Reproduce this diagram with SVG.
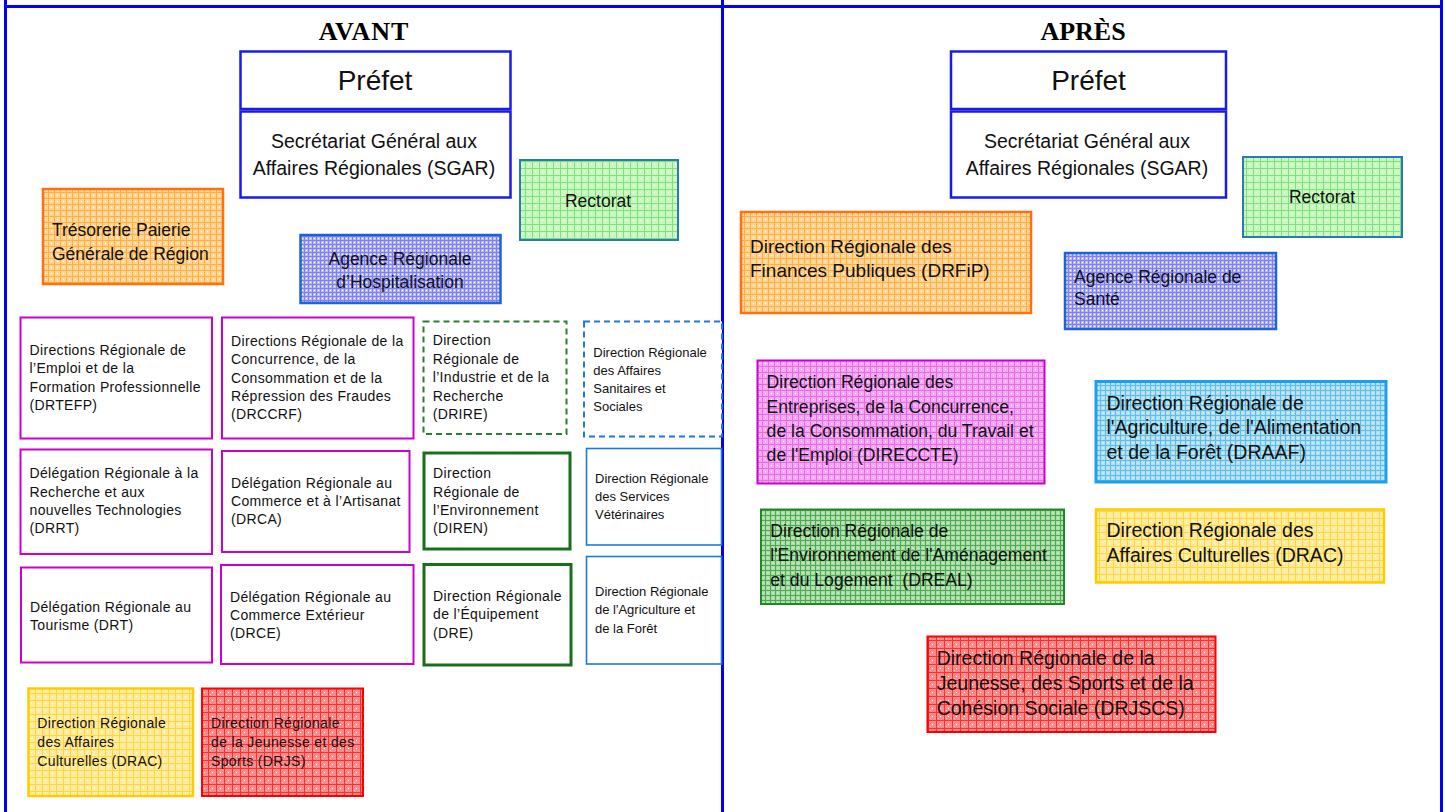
<svg xmlns="http://www.w3.org/2000/svg" width="1445" height="812" viewBox="0 0 1445 812">
<style>
text{font-family:"Liberation Sans",Arial,sans-serif;fill:#111}
.title{font-family:"Liberation Serif","Times New Roman",serif;font-weight:bold;font-size:26px;text-anchor:middle;fill:#000}
.head{fill:#fff;stroke:#1a1aee;stroke-width:2.5}
.big{font-size:28px;text-anchor:middle}
.sg{font-size:19.5px;text-anchor:middle}
.mid{font-size:17.5px}
.c{text-anchor:middle}
.sm{font-size:14px;letter-spacing:0.35px}
.xs{font-size:13px}
.mag{fill:#fff;stroke:#cc00cc;stroke-width:2}
.grn{fill:#fff;stroke:#1a6e1a;stroke-width:3}
.grnd{fill:#fff;stroke:#2e7d32;stroke-width:2;stroke-dasharray:6 4}
.blu{fill:#fff;stroke:#1e78e0;stroke-width:1.6}
.blud{fill:#fff;stroke:#1e78e0;stroke-width:2;stroke-dasharray:6 4}
.r19{font-size:19.5px}
.r18{font-size:17.6px}
</style>
<defs>
<pattern id="pOr" width="6" height="6" patternUnits="userSpaceOnUse"><rect width="6" height="6" fill="#ffd595"/><path d="M0 0.5H6M0.5 0V6" stroke="#ffb040" stroke-width="1"/><rect x="3" y="3" width="1" height="1" fill="#fff"/></pattern>
<pattern id="pBl" width="4" height="4" patternUnits="userSpaceOnUse"><rect width="4" height="4" fill="#b8bcff"/><path d="M0 0.5H4M0.5 0V4" stroke="#8080f4" stroke-width="1"/><rect x="2" y="2" width="1" height="1" fill="#fff"/></pattern>
<pattern id="pGr" width="7" height="7" patternUnits="userSpaceOnUse"><rect width="7" height="7" fill="#c8f8c0"/><path d="M0 0.5H7M0.5 0V7" stroke="#80e080" stroke-width="1"/><rect x="3" y="3" width="1" height="1" fill="#fff"/></pattern>
<pattern id="pRd" width="8" height="8" patternUnits="userSpaceOnUse"><rect width="8" height="8" fill="#ff8888"/><path d="M0 0.5H8M0.5 0V8" stroke="#ff3030" stroke-width="1"/><rect x="4" y="4" width="1" height="1" fill="#fff"/><rect x="2" y="6" width="1" height="1" fill="#ffd0d0"/></pattern>
<pattern id="pYe" width="7" height="7" patternUnits="userSpaceOnUse"><rect width="7" height="7" fill="#ffec9e"/><path d="M0 0.5H7M0.5 0V7" stroke="#ffd640" stroke-width="1"/><rect x="3" y="3" width="1" height="1" fill="#fff"/></pattern>
<pattern id="pMg" width="6" height="6" patternUnits="userSpaceOnUse"><rect width="6" height="6" fill="#f6a8f6"/><path d="M0 0.5H6M0.5 0V6" stroke="#e070e0" stroke-width="1"/><rect x="3" y="3" width="1" height="1" fill="#fff"/></pattern>
<pattern id="pCy" width="5" height="5" patternUnits="userSpaceOnUse"><rect width="5" height="5" fill="#b0e0f0"/><path d="M0 0.5H5M0.5 0V5" stroke="#60bce8" stroke-width="1"/><rect x="2.5" y="2.5" width="1" height="1" fill="#fff"/></pattern>
<pattern id="pDg" width="5" height="5" patternUnits="userSpaceOnUse"><rect width="5" height="5" fill="#a8dca8"/><path d="M0 0.5H5M0.5 0V5" stroke="#50a850" stroke-width="1"/><rect x="2.5" y="2.5" width="1" height="1" fill="#fff"/></pattern>
</defs>
<rect width="1445" height="812" fill="#fff"/>
<g id="frame" fill="none" stroke="#0000ff" stroke-width="3">
<path d="M5 6.5H1441.5"/>
<path d="M5.5 0V812M722.5 0V812M1441.5 0V812"/>
</g>
<g id="connectors"/>
<text class="title" x="364" y="40" style="letter-spacing:1px">AVANT</text>
<text class="title" x="1083" y="40">APRÈS</text>

<!-- AVANT -->
<g id="prefet-avant"><rect class="head" x="240.5" y="51.5" width="270" height="57.5"/><text class="big" x="375" y="90">Préfet</text></g>
<g id="sgar-avant"><rect class="head" x="240.5" y="111.5" width="270" height="86"/><text class="sg"><tspan x="374" y="148">Secrétariat Général aux</tspan><tspan x="374" y="175">Affaires Régionales (SGAR)</tspan></text></g>
<g id="rectorat-avant"><rect x="520" y="160" width="158" height="80" fill="url(#pGr)" stroke="#2a7ab8" stroke-width="2"/><text class="mid c" x="598" y="207">Rectorat</text></g>
<g id="arh"><rect x="300.5" y="235" width="200" height="68" fill="url(#pBl)" stroke="#1e64d8" stroke-width="2.5"/><text class="mid c"><tspan x="400" y="265">Agence Régionale</tspan><tspan x="400" y="288">d’Hospitalisation</tspan></text></g>
<g id="tpgr"><rect x="43" y="189" width="180" height="95" fill="url(#pOr)" stroke="#ff7010" stroke-width="2.5"/><text class="mid"><tspan x="52" y="236">Trésorerie Paierie</tspan><tspan x="52" y="260">Générale de Région</tspan></text></g>

<g id="drtefp"><rect class="mag" x="20.5" y="317.5" width="191.5" height="121"/><text class="sm"><tspan x="29.5" y="355">Directions Régionale de</tspan><tspan x="29.5" y="373.3">l’Emploi et de la</tspan><tspan x="29.5" y="391.7">Formation Professionnelle</tspan><tspan x="29.5" y="410">(DRTEFP)</tspan></text></g>
<g id="drccrf"><rect class="mag" x="222" y="317.5" width="191.5" height="121"/><text class="sm"><tspan x="231" y="346">Directions Régionale de la</tspan><tspan x="231" y="364.3">Concurrence, de la</tspan><tspan x="231" y="382.7">Consommation et de la</tspan><tspan x="231" y="401">Répression des Fraudes</tspan><tspan x="231" y="419.3">(DRCCRF)</tspan></text></g>
<g id="drrt"><rect class="mag" x="20.5" y="449.5" width="191.5" height="104.5"/><text class="sm"><tspan x="29.5" y="478.3">Délégation Régionale à la</tspan><tspan x="29.5" y="496.7">Recherche et aux</tspan><tspan x="29.5" y="515">nouvelles Technologies</tspan><tspan x="29.5" y="533.3">(DRRT)</tspan></text></g>
<g id="drca"><rect class="mag" x="222" y="451" width="187.5" height="101"/><text class="sm"><tspan x="231" y="487.7">Délégation Régionale au</tspan><tspan x="231" y="506">Commerce et à l’Artisanat</tspan><tspan x="231" y="524.3">(DRCA)</tspan></text></g>
<g id="drt"><rect class="mag" x="21" y="567.5" width="191" height="95"/><text class="sm"><tspan x="30" y="611.7">Délégation Régionale au</tspan><tspan x="30" y="630">Tourisme (DRT)</tspan></text></g>
<g id="drce"><rect class="mag" x="221" y="565" width="192.5" height="99"/><text class="sm"><tspan x="230" y="601.7">Délégation Régionale au</tspan><tspan x="230" y="620">Commerce Extérieur</tspan><tspan x="230" y="638.3">(DRCE)</tspan></text></g>

<g id="drire"><rect class="grnd" x="423.5" y="321.5" width="143" height="112.5"/><text class="sm"><tspan x="432.7" y="345">Direction</tspan><tspan x="432.7" y="363.5">Régionale de</tspan><tspan x="432.7" y="382">l’Industrie et de la</tspan><tspan x="432.7" y="400.5">Recherche</tspan><tspan x="432.7" y="419">(DRIRE)</tspan></text></g>
<g id="diren"><rect class="grn" x="424" y="453" width="146" height="96"/><text class="sm"><tspan x="433" y="478.3">Direction</tspan><tspan x="433" y="496.7">Régionale de</tspan><tspan x="433" y="515">l’Environnement</tspan><tspan x="433" y="533.3">(DIREN)</tspan></text></g>
<g id="dre"><rect class="grn" x="424" y="564.5" width="147" height="100.5"/><text class="sm"><tspan x="433" y="601">Direction Régionale</tspan><tspan x="433" y="619.3">de l’Équipement</tspan><tspan x="433" y="637.7">(DRE)</tspan></text></g>

<g id="drass"><rect class="blud" x="584" y="321.5" width="138" height="115"/><text class="xs"><tspan x="593.3" y="356.7">Direction Régionale</tspan><tspan x="593.3" y="375">des Affaires</tspan><tspan x="593.3" y="393">Sanitaires et</tspan><tspan x="593.3" y="411">Sociales</tspan></text></g>
<g id="drsv"><rect class="blu" x="586.5" y="448.5" width="135" height="96.5"/><text class="xs"><tspan x="595" y="482.7">Direction Régionale</tspan><tspan x="595" y="501">des Services</tspan><tspan x="595" y="519">Vétérinaires</tspan></text></g>
<g id="draf"><rect class="blu" x="586.5" y="556.5" width="135" height="107.5"/><text class="xs"><tspan x="595" y="596">Direction Régionale</tspan><tspan x="595" y="614.3">de l'Agriculture et</tspan><tspan x="595" y="632.7">de la Forêt</tspan></text></g>

<g id="drac-avant"><rect x="28.5" y="688.5" width="164.5" height="107.5" fill="url(#pYe)" stroke="#ffcc00" stroke-width="2.5"/><text class="sm"><tspan x="37.3" y="728.3">Direction Régionale</tspan><tspan x="37.3" y="746.7">des Affaires</tspan><tspan x="37.3" y="766">Culturelles (DRAC)</tspan></text></g>
<g id="drjs"><rect x="202" y="688.5" width="161" height="107.5" fill="url(#pRd)" stroke="#ff0000" stroke-width="2"/><text class="sm"><tspan x="211" y="728.3">Direction Régionale</tspan><tspan x="211" y="746.7">de la Jeunesse et des</tspan><tspan x="211" y="766">Sports (DRJS)</tspan></text></g>

<!-- APRÈS -->
<g id="prefet-apres"><rect class="head" x="951" y="51.5" width="275" height="57.5"/><text class="big" x="1088.5" y="90">Préfet</text></g>
<g id="sgar-apres"><rect class="head" x="951" y="111.5" width="275" height="86"/><text class="sg"><tspan x="1087" y="148">Secrétariat Général aux</tspan><tspan x="1087" y="175">Affaires Régionales (SGAR)</tspan></text></g>
<g id="rectorat-apres"><rect x="1243" y="157" width="159" height="80" fill="url(#pGr)" stroke="#2a7ab8" stroke-width="2"/><text class="mid c" x="1322" y="203">Rectorat</text></g>
<g id="drfip"><rect x="741" y="212" width="290" height="101" fill="url(#pOr)" stroke="#ff7010" stroke-width="2.5"/><text style="font-size:19px"><tspan x="750" y="253.3">Direction Régionale des</tspan><tspan x="750" y="276.7">Finances Publiques (DRFiP)</tspan></text></g>
<g id="ars"><rect x="1065" y="253" width="211" height="76" fill="url(#pBl)" stroke="#1e64d8" stroke-width="2.5"/><text class="mid"><tspan x="1074" y="282.7">Agence Régionale de</tspan><tspan x="1074" y="305">Santé</tspan></text></g>
<g id="direccte"><rect x="757.5" y="360.5" width="287" height="123" fill="url(#pMg)" stroke="#cc00cc" stroke-width="2"/><text class="r18"><tspan x="766.6" y="388.3">Direction Régionale des</tspan><tspan x="766.6" y="412.5">Entreprises, de la Concurrence,</tspan><tspan x="766.6" y="436.7">de la Consommation, du Travail et</tspan><tspan x="766.6" y="460.7">de l'Emploi (DIRECCTE)</tspan></text></g>
<g id="draaf"><rect x="1096" y="381.5" width="290" height="100.5" fill="url(#pCy)" stroke="#1aa0f0" stroke-width="3"/><text class="r19"><tspan x="1106.5" y="410">Direction Régionale de</tspan><tspan x="1106.5" y="434">l'Agriculture, de l'Alimentation</tspan><tspan x="1106.5" y="459">et de la Forêt (DRAAF)</tspan></text></g>
<g id="dreal"><rect x="761" y="509.5" width="303" height="94.5" fill="url(#pDg)" stroke="#228822" stroke-width="2"/><text class="r18"><tspan x="770.3" y="536.7">Direction Régionale de</tspan><tspan x="770.3" y="560.7">l'Environnement de l'Aménagement</tspan><tspan x="770.3" y="586">et du Logement&#160; (DREAL)</tspan></text></g>
<g id="drac-apres"><rect x="1096" y="509.5" width="288" height="73" fill="url(#pYe)" stroke="#ffcc00" stroke-width="2.5"/><text class="r19"><tspan x="1106.5" y="537.3">Direction Régionale des</tspan><tspan x="1106.5" y="561.7">Affaires Culturelles (DRAC)</tspan></text></g>
<g id="drjscs"><rect x="927.5" y="636.5" width="288" height="95.5" fill="url(#pRd)" stroke="#ff0000" stroke-width="2"/><text class="r19"><tspan x="936.7" y="665">Direction Régionale de la</tspan><tspan x="936.7" y="690">Jeunesse, des Sports et de la</tspan><tspan x="936.7" y="715">Cohésion Sociale (DRJSCS)</tspan></text></g>
</svg>
